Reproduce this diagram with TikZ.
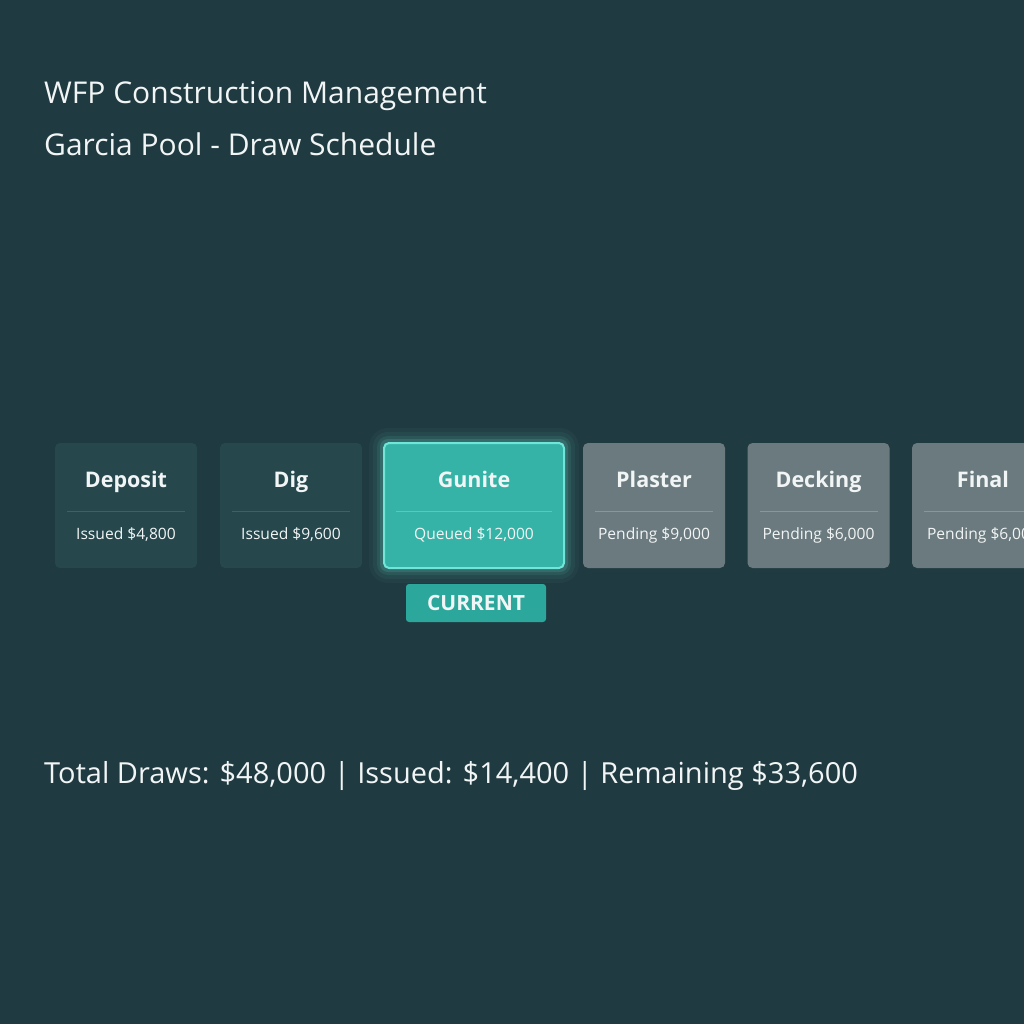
\documentclass[tikz,border=0pt]{standalone}
\usepackage{fontspec}
\setmainfont{Open Sans}
\definecolor{dsbg}{HTML}{1F3A40}
\definecolor{dsdone}{HTML}{26484D}
\definecolor{dsdoneln}{HTML}{3D6166}
\definecolor{dscur}{HTML}{35B3A6}
\definecolor{dscurln}{HTML}{6FE6D8}
\definecolor{dspend}{HTML}{6B7A7E}
\definecolor{dspendln}{HTML}{8A979A}
\definecolor{dsbadge}{HTML}{2BA89B}
\definecolor{dstxt}{HTML}{F2F5F5}
\tikzset{
  dsbox/.style={rounded corners=5pt,minimum width=142pt,minimum height=125pt,inner sep=0pt},
  dsdonebox/.style={dsbox,fill=dsdone},
  dspendbox/.style={dsbox,fill=dspend},
  dscurbox/.style={dsbox,fill=dscur,draw=dscurln,line width=2pt,minimum width=180pt,minimum height=125pt},
  dstitle/.style={text=dstxt,anchor=base,inner sep=0pt,font=\fontsize{21.5}{26}\selectfont\bfseries},
  dssub/.style={text=dstxt,anchor=base,inner sep=0pt,font=\fontsize{15.6}{19}\selectfont},
  dshead/.style={text=dstxt,anchor=base west,inner sep=0pt,font=\fontsize{30}{36}\selectfont}
}
\begin{document}
\begin{tikzpicture}[x=1pt,y=-1pt]
\fill[dsbg](0,0) rectangle (1024,1024);
\useasboundingbox (0,0) rectangle (1024,1024);
\def\mydsy{505.5}\def\mydst{487}\def\mydsl{511}\def\mydsv{539}\def\mydshw{59}
\node[dshead] (dsha) at (44,104) {WFP Construction Management};
\node[dshead] (dshb) at (44,156) {Garcia Pool - Draw Schedule};
\foreach \g/\o in {14/0.04,10/0.06,6/0.09,3/0.14}
  \fill[dscurln,opacity=\o,rounded corners=5pt+\g pt] (383-\g,442-\g) rectangle (565+\g,569+\g);
\node[dsdonebox] (dsna) at (126,\mydsy) {};
\node[dsdonebox] (dsnb) at (291,\mydsy) {};
\node[dscurbox] (dsnc) at (474,\mydsy) {};
\node[dspendbox] (dsnd) at (654,\mydsy) {};
\node[dspendbox] (dsne) at (818.5,\mydsy) {};
\node[dspendbox] (dsnf) at (983,\mydsy) {};
\draw[dsdoneln](126-\mydshw,\mydsl)--(126+\mydshw,\mydsl) (291-\mydshw,\mydsl)--(291+\mydshw,\mydsl);
\draw[dscurln,opacity=0.5](474-78,\mydsl)--(474+78,\mydsl);
\draw[dspendln](654-\mydshw,\mydsl)--(654+\mydshw,\mydsl) (818.5-\mydshw,\mydsl)--(818.5+\mydshw,\mydsl)
  (983-\mydshw,\mydsl)--(983+\mydshw,\mydsl);
\draw(126,\mydst) node[dstitle] {Deposit} (126,\mydsv) node[dssub] {Issued \$4,800}
  (291,\mydst) node[dstitle] {Dig} (291,\mydsv) node[dssub] {Issued \$9,600}
  (474,\mydst) node[dstitle] {Gunite} (474,\mydsv) node[dssub] {Queued \$12,000}
  (654,\mydst) node[dstitle] {Plaster} (654,\mydsv) node[dssub] {Pending \$9,000}
  (818.5,\mydst) node[dstitle] {Decking} (818.5,\mydsv) node[dssub] {Pending \$6,000}
  (983,\mydst) node[dstitle] {Final} (983,\mydsv) node[dssub] {Pending \$6,000};
\node[fill=dsbadge,rounded corners=3pt,minimum width=140pt,minimum height=38pt,inner sep=0pt,
  text=dstxt,font=\fontsize{21}{25}\selectfont\bfseries] (dsbadge) at (476,603) {CURRENT};
\node[dshead,font=\fontsize{29}{35}\selectfont] (dsft) at (44,783) {Total Draws: \$48,000 | Issued: \$14,400 | Remaining \$33,600};
\end{tikzpicture}
\end{document}
